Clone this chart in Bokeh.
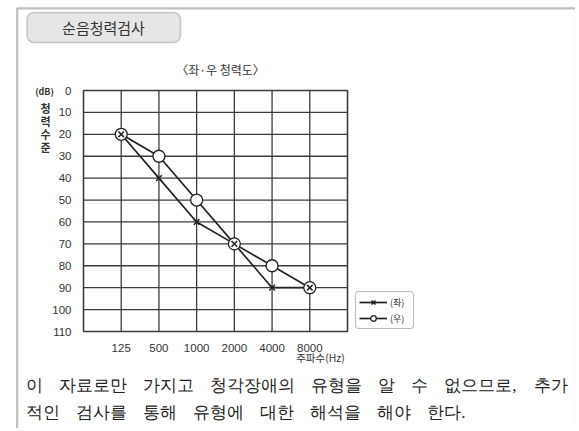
from bokeh.plotting import figure
from bokeh.models import (Range1d, FixedTicker, Label, LabelSet, BoxAnnotation,
                          Legend, LegendItem, ColumnDataSource)
from bokeh.embed import file_html
from bokeh.resources import INLINE

# ---- data ----
freqs = ["125", "500", "1000", "2000", "4000", "8000"]
left_ear = [20, 40, 60, 70, 90, 90]     # (좌)  x markers
right_ear = [20, 30, 50, 70, 80, 90]    # (우)  o markers
y_ticks = list(range(0, 111, 10))
title_text = "순음청력검사"
subtitle_text = "〈좌·우 청력도〉"
unit_text = "(dB)"
ylabel_chars = ["청", "력", "수", "준"]
xlabel_text = "주파수(Hz)"
legend_labels = ["(좌)", "(우)"]
note_line1 = ["이", "자료로만", "가지고", "청각장애의", "유형을", "알", "수", "없으므로,", "추가"]
note_line2 = ["적인", "검사를", "통해", "유형에", "대한", "해석을", "해야", "한다."]

# ---- layout constants (canvas px from top-left) ----
W, H = 575, 428
CH_L, CH_R, CH_T, CH_B = 83, 347, 90, 331      # chart grid box in px
FONT = "Noto Sans CJK KR"
INK = "#222222"
GRID = "#3c3c3c"
NOTE_SIZE = 17
NOTE_X0, NOTE_X1 = 25, 567
NOTE_Y = (385, 412)

x_pos = list(range(1, len(freqs) + 1))
x_lo, x_hi = 0, len(freqs) + 1
y_lo, y_hi = y_ticks[0], y_ticks[-1]

kx = (CH_R - CH_L) / (x_hi - x_lo)
ky = (CH_B - CH_T) / (y_hi - y_lo)
X0 = x_lo - CH_L / kx
X1 = x_hi + (W - CH_R) / kx
YT = y_lo - CH_T / ky
YB = y_hi + (H - CH_B) / ky

def px(xp):
    return X0 + xp / kx

def py(yp):
    return YT + yp / ky

p = figure(width=W, height=H, output_backend="svg", toolbar_location=None,
           x_range=Range1d(X0, X1), y_range=Range1d(YB, YT),
           min_border=0, background_fill_color="white",
           border_fill_color="white", outline_line_color=None)
p.grid.visible = False

# axes placed at the chart edges
p.xaxis.fixed_location = y_hi
p.yaxis.fixed_location = x_lo
p.xaxis.ticker = FixedTicker(ticks=x_pos)
p.xaxis.major_label_overrides = {x: f for x, f in zip(x_pos, freqs)}
p.yaxis.ticker = FixedTicker(ticks=y_ticks)
for ax in (p.xaxis, p.yaxis):
    ax.axis_line_color = None
    ax.major_tick_line_color = None
    ax.minor_tick_line_color = None
    ax.major_label_text_font = "Liberation Sans"
    ax.major_label_text_font_size = "11.5px"
    ax.major_label_text_color = "#333333"
p.xaxis.major_label_standoff = 6
p.yaxis.major_label_standoff = 6

# outer page frame: dark top and left rules, faint right edge
edge = BoxAnnotation(left=px(574.5), right=px(W + 60), top=py(7.8), bottom=py(H + 60),
                     fill_alpha=0, line_color="#dcdcdc", line_width=1)
p.add_layout(edge)
outer = BoxAnnotation(left=px(16.7), right=px(W + 60), top=py(7.8), bottom=py(H + 60),
                      fill_alpha=0, line_color="#2a2a2a", line_width=2.2)
p.add_layout(outer)

# title box
tbox = BoxAnnotation(left=px(26.5), right=px(180), top=py(12), bottom=py(42),
                     fill_color="#e6e6e6", fill_alpha=1,
                     line_color="#5e5e5e", line_width=1.5)
if "border_radius" in BoxAnnotation.properties():
    tbox.border_radius = 7
p.add_layout(tbox)

# grid lines and chart box from the tick lists
p.segment(x0=x_pos, y0=[y_lo] * len(x_pos), x1=x_pos, y1=[y_hi] * len(x_pos),
          line_color=GRID, line_width=1.3)
inner_y = y_ticks[1:-1]
p.segment(x0=[x_lo] * len(inner_y), y0=inner_y, x1=[x_hi] * len(inner_y), y1=inner_y,
          line_color=GRID, line_width=1.3)
p.quad(left=[x_lo], right=[x_hi], top=[y_lo], bottom=[y_hi], fill_color=None,
       line_color=GRID, line_width=1.6)

l1 = p.line(x_pos, left_ear, line_color=INK, line_width=1.7)
l2 = p.line(x_pos, right_ear, line_color=INK, line_width=1.7)
c2 = p.scatter(x_pos, right_ear, marker="circle", size=12, fill_color="white",
               line_color=INK, line_width=1.3)
x1 = p.scatter(x_pos, left_ear, marker="x", size=8, line_color=INK, line_width=1.5)

legend = Legend(items=[LegendItem(label=legend_labels[0], renderers=[l1, x1]),
                       LegendItem(label=legend_labels[1], renderers=[l2, c2])],
                location=(CH_R + 8, H - CH_B + 2), margin=0, padding=3, spacing=2,
                glyph_width=28, glyph_height=14, label_height=14,
                label_standoff=3, label_text_font_size="9px",
                label_text_font=FONT, label_text_color="#333333",
                border_line_color="#777777", border_line_width=1.5,
                background_fill_color="white")
if "border_radius" in Legend.properties():
    legend.border_radius = 4
p.add_layout(legend)

def lab(x, y, text, size, align="center", bold=False, color="#333333", font=FONT):
    p.add_layout(Label(x=px(x), y=py(y), text=text,
                       text_align=align, text_baseline="middle",
                       text_font=font, text_font_size=size, text_color=color,
                       text_font_style="bold" if bold else "normal"))

lab(103, 27, title_text, "15px")
lab(220, 69, subtitle_text, "12px")
lab(44, 91, unit_text, "9px", bold=True)
for i, ch in enumerate(ylabel_chars):
    lab(45, 107 + 13 * i, ch, "11px", bold=True)
lab(320, 357, xlabel_text, "10.5px")

# note text: words laid out left to right, first line justified
def word_w(w):
    return sum(NOTE_SIZE if ord(c) > 0x1100 else NOTE_SIZE * 0.3 for c in w)

w1 = [word_w(w) for w in note_line1]
gap = (NOTE_X1 - NOTE_X0 - sum(w1)) / (len(note_line1) - 1)

def layout(words, gap):
    xs, cur = [], NOTE_X0
    for w in words:
        xs.append(cur)
        cur += word_w(w) + gap
    return xs

for words, yy in ((note_line1, NOTE_Y[0]), (note_line2, NOTE_Y[1])):
    xs = layout(words, gap)
    src = ColumnDataSource(dict(x=[px(v) for v in xs], y=[py(yy)] * len(words), t=words))
    p.add_layout(LabelSet(x="x", y="y", text="t", source=src,
                          text_align="left", text_baseline="middle",
                          text_font=FONT, text_font_size=f"{NOTE_SIZE}px",
                          text_color=INK))

open("out.html", "w").write(file_html(p, INLINE))
